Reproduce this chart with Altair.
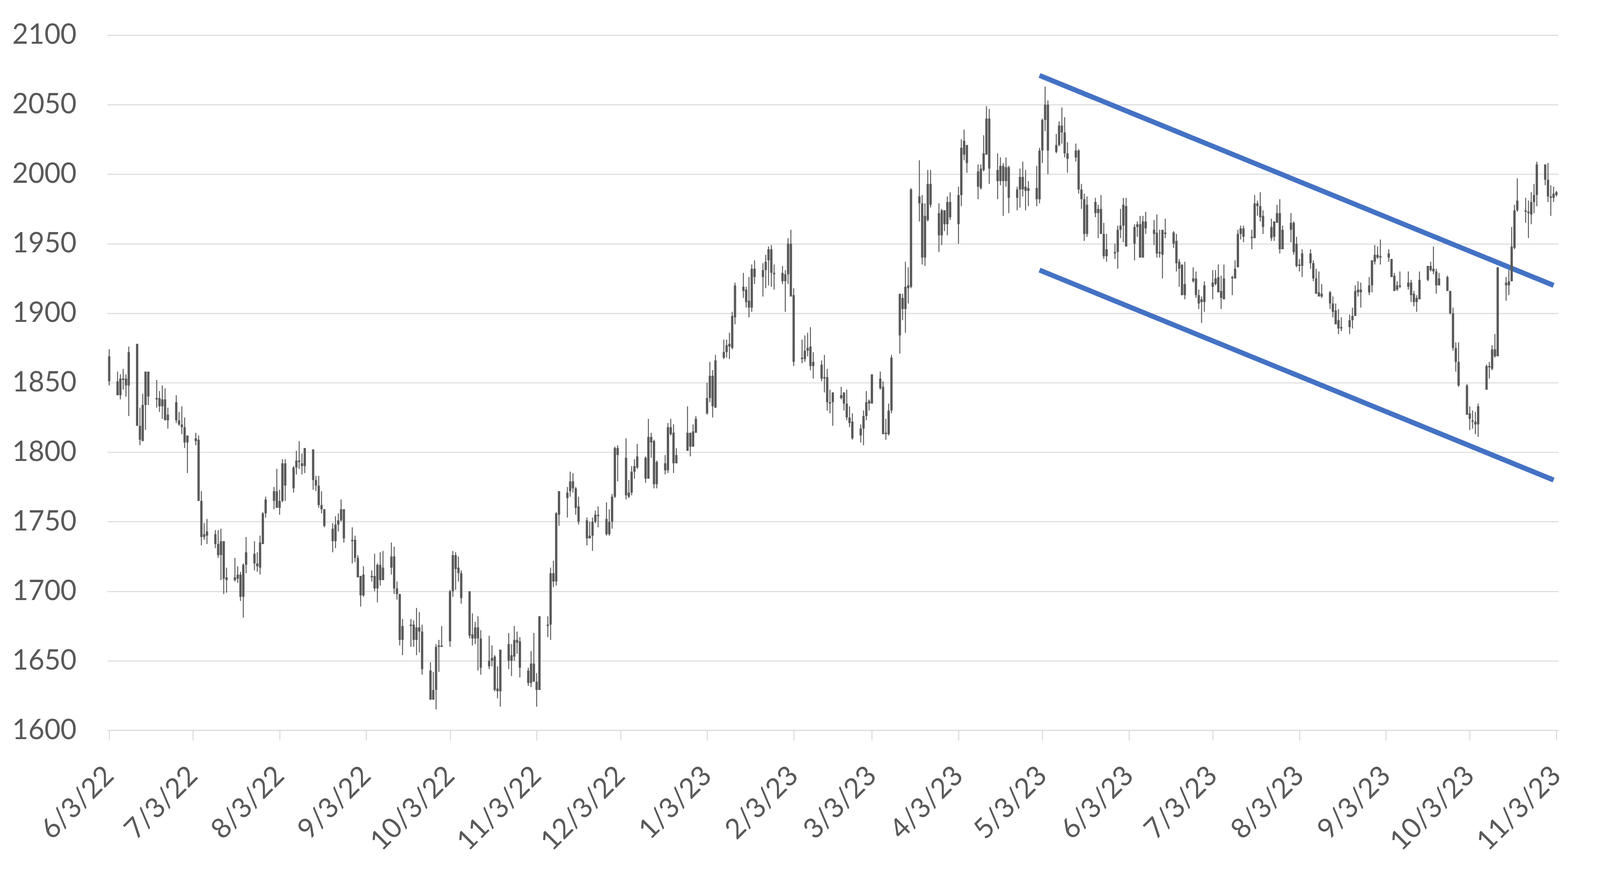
import altair as alt
import pandas as pd
from datetime import datetime

# ---------------- data ----------------
first_day = "2022-06-03"
last_day = "2023-11-03"
closed_days = ["2022-12-26", "2023-01-02", "2023-04-07"]   # weekdays with no bar

high = [
    1874,1858,1856,1860,1856,1876, 1878,1832,1842,1858,1858, 1852,1844,1848,1846,1832, 1841,1829,1833,1825,1812,
    1814,1812,1772,1749,1752, 1744,1744,1745,1736,1717, 1724,1718,1714,1720,1739, 1736,1728,1740,1757,1768,
    1775,1788,1773,1795,1795,
    1790,1801,1808,1799,1803, 1802,1783,1783,1772,1759, 1749,1754,1756,1766,1759, 1746,1740,1726,1711,1718,
    1715,1727,1720,1728,1729, 1735,1732,1707,1698,1680, 1680,1679,1688,1685,1676, 1649,1642,1662,1665,1675,
    1701,1729,1728,1725,
    1715, 1700,1684,1678,1682,1672, 1668,1661,1654,1646,1658, 1670,1662,1675,1671,1667, 1645,1657,1670,1641,1682,
    1682,1717,1722,1757,1772, 1775,1786,1785,1775,1768, 1753,1750,1753,1758,1761, 1764,1759,1770,1804,1805,
    1810,1780,
    1790,1795,1806, 1797,1824,1814,1809,1794, 1798,1821,1824,1820,1803, 1833,1814,1820,1826, 1850,1865,1859,1870,
    1881,1881,1886,1901,1922, 1929,1919,1926,1935,1938, 1936,1942,1948,1949,1935, 1934,1931,1954,1960,1918,
    1881,
    1884,1886,1890,1872, 1866,1870,1860,1845,1843, 1847,1843,1845,1833,1828, 1820,1830,1844,1838,1856,
    1858,1851,1824,1835,1870, 1914,1914,1937,1933,1990, 2010,1985,1979,2003,2003, 1979,1975,1974,1984,1987,
    1991,2025,2032,2021,
    2007,2007,2028,2049,2047, 2015,2012,2008,2012,2006, 1991,2004,2009,2003,1995, 2006,2019,2040,2063,2053,
    2029,2038,2048,2041,2023, 2022,2018,1993,1986,1984, 1983,1978,1985,1965,1957, 1950,1963,1975,1983,1983,
    1964,1966,1970,1970,1973,
    1967,1971,1960,1960,1968, 1959,1957,1939,1935,1937, 1933,1930,1917,1912,1923, 1931,1931,1935,1927,1935,
    1927,1938,1960,1963,1963, 1960,1985,1981,1987,1974, 1968,1966,1978,1982,1963, 1972,1966,1955,1939,1946,
    1946,1938,1932,1930,1921,
    1916,1912,1907,1903,1897, 1899,1904,1920,1923,1922, 1926,1938,1949,1948,1953, 1946,1939,1929,1923,1930,
    1930,1924,1916,1913,1930, 1934,1937,1948,1932,1929, 1927,1916,1904,1879,1879, 1849,1833,1830,1829,1835,
    1863,1865,1877,1885,
    1933, 1926,1931,1962,1978,1997, 1983,1981,1987,1993,2009, 2007,2008,1992,1991,1988,
]

low = [
    1848,1841,1838,1845,1840,1826, 1819,1805,1808,1816,1834, 1832,1829,1824,1823,1817, 1821,1819,1813,1803,1785,
    1805,1765,1733,1737,1734, 1731,1724,1708,1698,1699, 1707,1706,1693,1681,1713, 1715,1714,1712,1734,1753,
    1759,1760,1755,1764,1765,
    1771,1784,1788,1784,1785, 1773,1772,1760,1756,1746, 1728,1731,1743,1750,1735, 1720,1721,1710,1689,1696,
    1707,1700,1692,1704,1708, 1712,1698,1694,1661,1654, 1660,1660,1654,1656,1640, 1622,1622,1615,1642,1660,
    1660,1696,1701,1707,
    1691, 1666,1661,1662,1643,1640, 1644,1646,1628,1623,1617, 1644,1639,1650,1655,1638, 1632,1631,1635,1617,1629,
    1667,1665,1703,1704,1747, 1753,1768,1771,1755,1748, 1733,1738,1729,1749,1746, 1740,1740,1745,1767,1779,
    1766,1767,
    1769,1781,1788, 1778,1781,1796,1774,1774, 1784,1785,1812,1785,1792, 1801,1797,1804,1814, 1827,1836,1825,1832,
    1867,1868,1867,1874,1892, 1911,1904,1897,1901,1921, 1912,1918,1920,1919,1917, 1921,1901,1921,1912,1862,
    1864,
    1865,1869,1859,1853, 1851,1843,1830,1828,1819, 1838,1830,1823,1818,1809, 1807,1805,1823,1830,1835,
    1845,1813,1809,1812,1828, 1871,1895,1886,1907,1918, 1966,1935,1934,1966,1976, 1944,1949,1959,1956,1967,
    1950,1977,2010,2001,
    1982,1989,2002,2014,1993, 1982,1992,1970,1991,1972, 1974,1976,1984,1974,1977, 1977,1979,2008,2031,2000,
    2015,2020,2022,2012,2001, 2009,1986,1975,1952,1955, 1969,1954,1957,1939,1937, 1939,1932,1954,1951,1948,
    1938,1955,1940,1940,1957,
    1949,1940,1940,1925,1954, 1947,1930,1919,1913,1910, 1922,1911,1903,1893,1901, 1910,1920,1915,1903,1910,
    1913,1925,1933,1953,1951, 1946,1954,1970,1966,1957, 1952,1952,1965,1943,1946, 1951,1942,1933,1930,1926,
    1932,1923,1914,1912,1911,
    1903,1897,1892,1885,1887, 1885,1889,1898,1912,1904, 1913,1915,1935,1939,1935, 1937,1926,1916,1916,1918,
    1917,1908,1905,1901,1910, 1923,1930,1928,1914,1920, 1916,1899,1873,1858,1847, 1827,1816,1817,1813,1811,
    1845,1853,1859,1868,
    1869, 1909,1913,1923,1946,1973, 1965,1954,1964,1972,1977, 1992,1980,1970,1980,1984,
]

body_top = [
    1869,1851,1853,1853,1853,1872, 1878,1819,1834,1858,1858, 1839,1839,1838,1838,1827, 1836,1823,1820,1818,1812,
    1810,1809,1765,1741,1743, 1741,1734,1736,1736,1710, 1710,1712,1712,1719,1728, 1727,1720,1735,1756,1766,
    1772,1772,1765,1792,1792,
    1789,1794,1794,1792,1803, 1802,1780,1776,1762,1759, 1745,1748,1751,1759,1759, 1737,1737,1724,1711,1712,
    1711,1711,1719,1719,1717, 1725,1725,1702,1698,1675, 1676,1676,1674,1674,1671, 1643,1629,1660,1661,1661,
    1700,1726,1726,1717,
    1713, 1700,1669,1674,1674,1666, 1650,1652,1653,1630,1658, 1662,1654,1665,1665,1664, 1643,1648,1648,1635,1682,
    1676,1713,1713,1756,1772, 1771,1779,1779,1774,1761, 1751,1740,1750,1755,1755, 1752,1750,1768,1803,1803,
    1796,1771,
    1786,1790,1797, 1796,1811,1811,1808,1793, 1792,1818,1818,1814,1798, 1814,1814,1815,1824, 1839,1855,1855,1866,
    1872,1877,1878,1898,1920, 1919,1917,1909,1932,1932, 1931,1937,1946,1946,1929, 1929,1928,1950,1950,1913,
    1868,
    1873,1875,1876,1865, 1863,1854,1854,1836,1843, 1841,1843,1835,1825,1822, 1817,1826,1836,1837,1856,
    1853,1847,1814,1830,1868, 1914,1911,1919,1920,1989, 1984,1979,1970,1993,1993, 1972,1974,1974,1980,1980,
    1985,2019,2024,2021,
    2002,2004,2015,2040,2040, 2003,2006,2006,2005,2005, 1989,1998,1998,1991,1990, 1990,2017,2039,2050,2050,
    2021,2035,2035,2030,2015, 2017,2017,1989,1982,1978, 1980,1975,1975,1957,1946, 1944,1960,1963,1978,1977,
    1962,1964,1964,1966,1966,
    1960,1958,1944,1960,1958, 1958,1952,1937,1935,1921, 1925,1925,1913,1910,1920, 1922,1925,1926,1916,1925,
    1926,1932,1957,1961,1961, 1955,1979,1979,1977,1970, 1962,1966,1972,1972,1960, 1965,1965,1950,1935,1943,
    1943,1936,1925,1915,1914,
    1915,1907,1902,1895,1890, 1895,1898,1916,1917,1917, 1920,1938,1942,1942,1941, 1943,1939,1927,1920,1920,
    1922,1922,1914,1911,1924, 1934,1934,1932,1930,1925, 1926,1916,1900,1875,1865, 1848,1828,1823,1822,1833,
    1862,1862,1874,1874,
    1933, 1922,1923,1948,1974,1981, 1974,1973,1980,1985,2007, 2007,1996,1984,1986,1987,
]

body_bottom = [
    1851,1841,1841,1852,1848,1848, 1819,1809,1808,1834,1840, 1838,1833,1833,1823,1823, 1823,1820,1818,1807,1807,
    1808,1765,1739,1739,1740, 1734,1726,1726,1709,1708, 1708,1709,1696,1696,1719, 1720,1718,1717,1734,1756,
    1765,1760,1760,1765,1776,
    1774,1789,1793,1790,1790, 1780,1776,1762,1759,1747, 1736,1736,1748,1751,1738, 1736,1724,1710,1697,1697,
    1710,1702,1702,1708,1708, 1717,1702,1698,1665,1665, 1675,1665,1665,1671,1644, 1622,1622,1629,1660,1660,
    1664,1700,1716,1713,
    1695, 1668,1666,1666,1666,1645, 1646,1650,1629,1628,1628, 1650,1650,1653,1663,1645, 1634,1634,1635,1629,1629,
    1675,1676,1707,1707,1755, 1767,1772,1774,1760,1750, 1738,1738,1740,1750,1754, 1741,1741,1750,1768,1798,
    1769,1768,
    1771,1786,1789, 1781,1781,1807,1777,1777, 1787,1787,1813,1792,1792, 1801,1804,1804,1814, 1828,1839,1833,1832,
    1868,1872,1876,1875,1897, 1916,1908,1904,1904,1926, 1926,1931,1938,1929,1928, 1923,1923,1928,1912,1865,
    1867,
    1867,1873,1862,1862, 1853,1853,1836,1835,1836, 1839,1835,1825,1821,1810, 1812,1817,1826,1835,1835,
    1846,1813,1813,1813,1830, 1884,1903,1903,1918,1919, 1979,1940,1940,1967,1978, 1956,1956,1964,1964,1969,
    1964,1985,2014,2008,
    1991,1990,2003,2014,2004, 1995,1995,1995,1995,1983, 1983,1989,1989,1988,1988, 1982,1982,2017,2039,2017,
    2016,2021,2030,2015,2011, 2012,1989,1982,1957,1957, 1972,1972,1957,1941,1941, 1943,1944,1960,1963,1948,
    1950,1962,1940,1940,1961,
    1957,1943,1943,1942,1957, 1950,1936,1932,1913,1913, 1923,1913,1907,1908,1908, 1919,1921,1915,1911,1910,
    1925,1925,1933,1957,1955, 1954,1954,1977,1969,1962, 1954,1955,1965,1946,1946, 1960,1944,1934,1934,1934,
    1936,1925,1914,1912,1912,
    1907,1901,1892,1889,1889, 1890,1895,1898,1915,1915, 1915,1920,1937,1940,1940, 1940,1926,1916,1917,1919,
    1919,1913,1908,1908,1910, 1924,1931,1930,1920,1920, 1916,1900,1875,1865,1848, 1827,1824,1822,1820,1820,
    1845,1861,1860,1869,
    1869, 1920,1920,1923,1947,1974, 1973,1972,1971,1980,1985, 1996,1984,1983,1983,1985,
]

tick_labels = ["6/3/22", "7/3/22", "8/3/22", "9/3/22", "10/3/22", "11/3/22", "12/3/22",
               "1/3/23", "2/3/23", "3/3/23", "4/3/23", "5/3/23", "6/3/23", "7/3/23",
               "8/3/23", "9/3/23", "10/3/23", "11/3/23"]
y_ticks = [1600, 1650, 1700, 1750, 1800, 1850, 1900, 1950, 2000, 2050, 2100]

# channel lines drawn on the chart
trend_dates = ["2023-05-02", "2023-11-02"]
upper_channel = [2071, 1920]
lower_channel = [1931, 1780]

# ---------------- build tables ----------------
t0 = datetime.strptime(first_day, "%Y-%m-%d")
dates = pd.bdate_range(first_day, last_day).difference(pd.to_datetime(closed_days))
assert len(dates) == len(high) == len(low) == len(body_top) == len(body_bottom), (len(dates), len(high))
days = [(d.to_pydatetime() - t0).days for d in dates]

df = pd.DataFrame({"day": days, "high": high, "low": low,
                   "body_top": body_top, "body_bottom": body_bottom})

tdays = [(datetime.strptime(s, "%Y-%m-%d") - t0).days for s in trend_dates]
trend_df = pd.DataFrame({
    "day": tdays + tdays,
    "price": upper_channel + lower_channel,
    "line": ["upper"] * 2 + ["lower"] * 2,
})

tick_days = [(datetime.strptime(s, "%m/%d/%y") - t0).days for s in tick_labels]
label_expr = "".join(f"datum.value == {d} ? '{s}' : " for d, s in zip(tick_days, tick_labels)) + "''"

GREY = "#595959"
GRID = "#D9D9D9"
FONT = "Lato"

x_scale = alt.Scale(domain=[0, tick_days[-1]], nice=False, zero=False)
y_scale = alt.Scale(domain=[1600, 2100], nice=False, zero=False)

x_axis = alt.Axis(values=tick_days, labelExpr=label_expr, title=None, grid=False,
                  domain=True, domainColor=GRID, domainWidth=2.5,
                  ticks=True, tickColor=GRID, tickWidth=2.5, tickSize=26,
                  labelAngle=-45, labelAlign="right", labelBaseline="middle",
                  labelFont=FONT, labelFontSize=72, labelColor=GREY,
                  labelPadding=80, labelLimit=600,
                  labelOverlap=False, labelFlush=False, labelBound=False)
y_axis = alt.Axis(values=y_ticks, format="d", title=None, grid=True,
                  gridColor=GRID, gridWidth=2.5, domain=False, ticks=False,
                  labelFont=FONT, labelFontSize=72, labelColor=GREY, labelPadding=80)

base = alt.Chart(df)

trend = alt.Chart(trend_df).mark_line(color="#4472C4", strokeWidth=13, strokeCap="butt").encode(
    x=alt.X("day:Q", scale=x_scale, axis=x_axis),
    y=alt.Y("price:Q", scale=y_scale, axis=y_axis),
    detail="line:N",
)

wicks = base.mark_rule(color=GREY, strokeWidth=2.5).encode(
    x=alt.X("day:Q", scale=x_scale, axis=x_axis),
    y=alt.Y("low:Q", scale=y_scale, axis=y_axis),
    y2="high:Q",
)

bodies = base.mark_bar(color=GREY, size=6).encode(
    x=alt.X("day:Q", scale=x_scale, axis=x_axis),
    y=alt.Y("body_top:Q", scale=y_scale, axis=y_axis),
    y2="body_bottom:Q",
)

chart = alt.layer(trend, wicks, bodies).properties(
    width=3762,
    height=1802,
    autosize=alt.AutoSizeParams(type="none"),
    padding={"left": 270, "top": 69, "right": 100, "bottom": 330},
    background="white",
).configure_view(stroke=None)

chart.save("out.html", embed_options={"renderer": "svg", "actions": False})
